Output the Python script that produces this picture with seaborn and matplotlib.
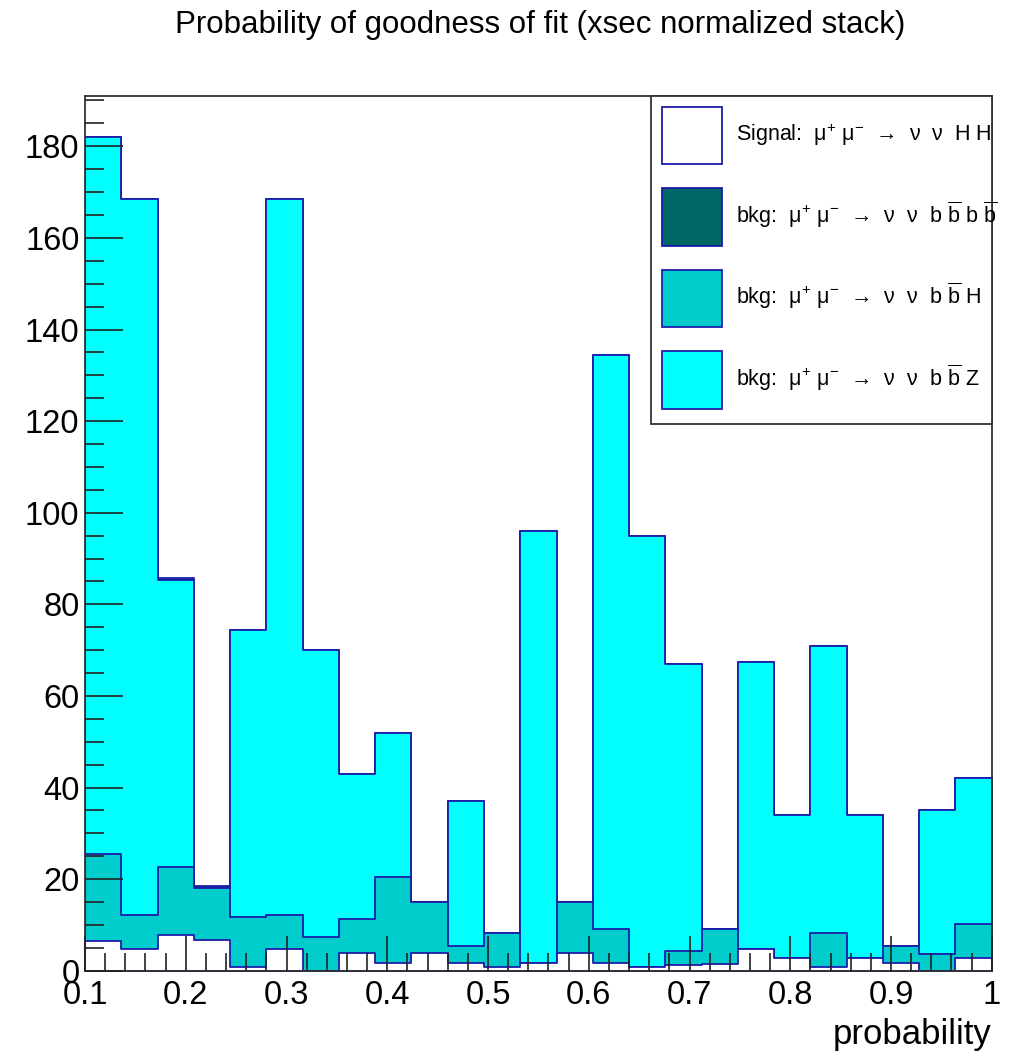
import numpy as np
import pandas as pd
import matplotlib
matplotlib.use("Agg")
import matplotlib.pyplot as plt
from matplotlib.patches import Patch, Rectangle
from matplotlib.ticker import MultipleLocator
import seaborn as sns

sns.set_style("white")
plt.rcParams['font.family'] = ['Liberation Sans', 'DejaVu Sans']
plt.rcParams['mathtext.fontset'] = 'custom'
plt.rcParams['mathtext.rm'] = 'Liberation Sans'
plt.rcParams['text.color'] = 'black'
plt.rcParams['axes.labelcolor'] = 'black'
plt.rcParams['xtick.color'] = 'black'
plt.rcParams['ytick.color'] = 'black'

# 25 bins between 0.1 and 1
bin_edges = list(np.linspace(0.1, 1.0, 26))
bin_centers = [0.5 * (a + b) for a, b in zip(bin_edges[:-1], bin_edges[1:])]

# per-bin contents (stack order: bottom -> top)
signal = [6.5, 4.7, 7.8, 6.7, 0.9, 4.7, 0.0, 3.8, 1.6, 3.8, 1.6, 0.9, 1.6,
          3.8, 1.6, 0.9, 1.2, 1.5, 4.7, 2.7, 0.9, 2.7, 1.6, 0.0, 2.7]
bkg_bbH = [19.0, 7.5, 14.9, 11.3, 10.9, 7.5, 7.3, 7.5, 18.9, 11.3, 3.8, 7.3, 0.0,
           11.3, 7.6, 0.0, 3.2, 7.6, 0.0, 0.0, 7.3, 0.0, 3.8, 3.6, 7.6]
bkg_bbZ = [156.5, 156.3, 62.6, 0.0, 62.7, 156.3, 62.7, 31.7, 31.5, 0.0, 31.6, 0.0, 94.4,
           0.0, 125.3, 94.1, 62.6, 0.0, 62.8, 31.3, 62.8, 31.3, 0.0, 31.4, 31.7]
bkg_bbbb = [0.0, 0.0, 0.5, 0.6, 0.0, 0.0, 0.0, 0.0, 0.0, 0.0, 0.0, 0.0, 0.0,
            0.0, 0.0, 0.0, 0.0, 0.0, 0.0, 0.0, 0.0, 0.0, 0.0, 0.0, 0.0]

labels = [
    r"Signal:  μ$^{+}$ μ$^{-}$  →  ν  ν  H H",
    r"bkg:  μ$^{+}$ μ$^{-}$  →  ν  ν  b $\overline{\mathrm{b}}$ b $\overline{\mathrm{b}}$",
    r"bkg:  μ$^{+}$ μ$^{-}$  →  ν  ν  b $\overline{\mathrm{b}}$ H",
    r"bkg:  μ$^{+}$ μ$^{-}$  →  ν  ν  b $\overline{\mathrm{b}}$ Z",
]
colors = {"sig": "white", "bbbb": "#006666", "bbH": "#00cccc", "bbZ": "#00ffff"}
edge = "#1c1caa"

df = pd.DataFrame({"center": bin_centers, "sig": signal, "bbH": bkg_bbH,
                   "bbZ": bkg_bbZ, "bbbb": bkg_bbbb})
# cumulative sums, drawn from the top of the stack down like THStack
df["c_sig"] = df["sig"]
df["c_bbH"] = df["c_sig"] + df["bbH"]
df["c_bbZ"] = df["c_bbH"] + df["bbZ"]
df["c_bbbb"] = df["c_bbZ"] + df["bbbb"]

fig = plt.figure(figsize=(10.12, 10.54), dpi=100)
ax = fig.add_axes([0.084, 0.079, 0.896, 0.830])

for key in ["bbbb", "bbZ", "bbH", "sig"]:
    sns.histplot(data=df, x="center", weights="c_" + key, bins=bin_edges,
                 element="step", fill=True, color=colors[key], alpha=1,
                 edgecolor=edge, linewidth=1.3, ax=ax)

ax.set_axisbelow(False)
ax.set_xlim(0.1, 1.0)
ax.set_ylim(0, 191)
ax.xaxis.set_major_locator(MultipleLocator(0.1))
ax.xaxis.set_minor_locator(MultipleLocator(0.02))
ax.yaxis.set_major_locator(MultipleLocator(20))
ax.yaxis.set_minor_locator(MultipleLocator(5))
ax.set_xticks(np.arange(0.1, 1.01, 0.1))
ax.set_xticklabels(["0.1", "0.2", "0.3", "0.4", "0.5", "0.6", "0.7", "0.8", "0.9", "1"])
ax.tick_params(axis="both", which="both", direction="in", color="#222222",
               labelsize=23.5, top=False, right=False, bottom=True, left=True)
ax.tick_params(axis="x", which="major", length=25, width=1.2, pad=7)
ax.tick_params(axis="x", which="minor", length=13, width=1.2)
ax.tick_params(axis="y", which="major", length=27, width=1.2, pad=4)
ax.tick_params(axis="y", which="minor", length=14, width=1.2)
for s in ax.spines.values():
    s.set_color("#333333")
    s.set_linewidth(1.3)
ax.set_ylabel("")
ax.set_xlabel("probability", fontsize=25, ha="right", x=1.0, labelpad=5)

fig.text(0.534, 0.976, "Probability of goodness of fit (xsec normalized stack)",
         ha="center", va="center", fontsize=22.5)

# legend box with a fixed frame, like the TLegend in the original
ax.add_patch(Rectangle((0.624, 0.625), 0.376, 0.375, transform=ax.transAxes,
                       facecolor="white", edgecolor="#333333", linewidth=1.3,
                       zorder=4.5, clip_on=False))
handles = [Patch(facecolor=colors[k], edgecolor=edge, linewidth=1.3)
           for k in ["sig", "bbbb", "bbH", "bbZ"]]
leg = ax.legend(handles, labels, loc="upper left", bbox_to_anchor=(0.624, 1.0),
                borderaxespad=0, fontsize=15.5, handlelength=2.8, handleheight=3.75,
                labelspacing=1.1, borderpad=0.5, handletextpad=0.65,
                frameon=False)
leg.set_zorder(5)

fig.savefig("out.png", dpi=100)
